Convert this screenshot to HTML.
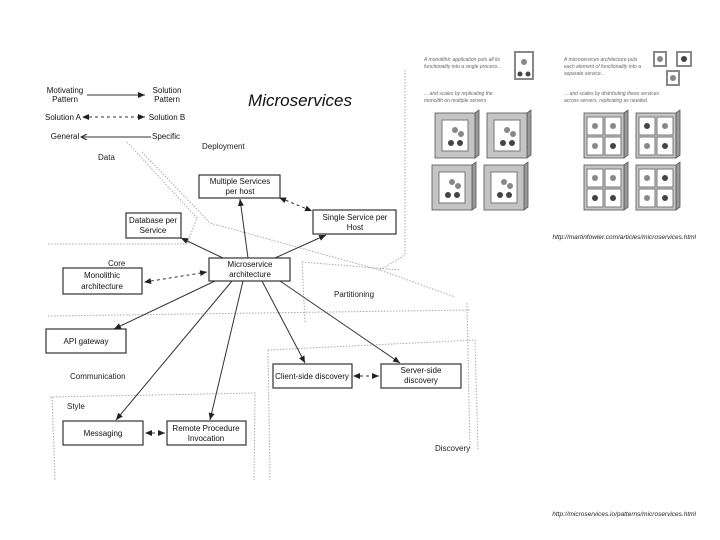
<!DOCTYPE html>
<html><head><meta charset="utf-8"><style>
body{margin:0;background:#fff}
svg{display:block;font-family:"Liberation Sans",Arial,sans-serif}
.b{fill:#fff;stroke:#333;stroke-width:1.2}
.t{font-size:8px;fill:#111;text-anchor:middle}
.l{font-size:8px;fill:#222}
.d{fill:none;stroke:#aaa;stroke-width:1;stroke-dasharray:1.5 1.5}
.a{stroke:#333;stroke-width:1;fill:none}
.g{font-size:5px;fill:#666;font-style:italic}
</style></head><body>
<svg width="720" height="540" viewBox="0 0 720 540">
<defs>
<marker id="ar" markerWidth="8" markerHeight="6" refX="7" refY="3" orient="auto" markerUnits="userSpaceOnUse"><path d="M0,0 L7,3 L0,6z" fill="#222"/></marker>
<marker id="as" markerWidth="8" markerHeight="6" refX="1" refY="3" orient="auto" markerUnits="userSpaceOnUse"><path d="M7,0 L0,3 L7,6z" fill="#222"/></marker>
<marker id="ao" markerWidth="8" markerHeight="6" refX="1" refY="3" orient="auto" markerUnits="userSpaceOnUse"><path d="M7,0 L1,3 L7,6" fill="none" stroke="#222"/></marker>
</defs>
<text class="t" x="65" y="93">Motivating</text><text class="t" x="65" y="102">Pattern</text>
<line class="a" x1="87" y1="95" x2="145" y2="95" marker-end="url(#ar)"/>
<text class="t" x="167" y="93">Solution</text><text class="t" x="167" y="102">Pattern</text>
<text class="t" x="63" y="120">Solution A</text>
<line class="a" x1="83" y1="117" x2="145" y2="117" stroke-dasharray="3 3" marker-start="url(#as)" marker-end="url(#ar)"/>
<text class="t" x="167" y="120">Solution B</text>
<text class="t" x="65" y="139">General</text>
<line class="a" x1="81" y1="137" x2="151" y2="137" marker-start="url(#ao)"/>
<text class="t" x="166" y="139">Specific</text>
<text x="300" y="106" font-size="17" font-style="italic" text-anchor="middle" fill="#111">Microservices</text>
<path class="d" d="M127,142 L197,218 L187,244 M48,244 L187,244"/>
<path class="d" d="M142,152 L210,223 L380,270 L455,297"/>
<path class="d" d="M405,70 L405,255 L380,270"/>
<path class="d" d="M305,322 L302,262 L400,270 M48,316 L470,310"/>
<path class="d" d="M268,350 L270,480 M268,350 L475,340 L478,450"/>
<path class="d" d="M50,397 L255,393 L254,480 M52,397 L55,480"/>
<path class="d" d="M467,303 L470,450"/>
<text class="l" x="98" y="160">Data</text>
<text class="l" x="202" y="149">Deployment</text>
<text class="l" x="108" y="266">Core</text>
<text class="l" x="334" y="297">Partitioning</text>
<text class="l" x="70" y="379">Communication</text>
<text class="l" x="67" y="409">Style</text>
<text class="l" x="435" y="451">Discovery</text>
<rect class="b" x="199" y="175" width="81" height="23"/><text class="t" x="240" y="184">Multiple Services</text><text class="t" x="240" y="194">per host</text>
<rect class="b" x="313" y="210" width="83" height="24"/><text class="t" x="355" y="220">Single Service per</text><text class="t" x="355" y="230">Host</text>
<rect class="b" x="126" y="213" width="55" height="25"/><text class="t" x="153" y="223">Database per</text><text class="t" x="153" y="233">Service</text>
<rect class="b" x="209" y="258" width="81" height="23"/><text class="t" x="250" y="267">Microservice</text><text class="t" x="250" y="277">architecture</text>
<rect class="b" x="63" y="268" width="79" height="26"/><text class="t" x="102" y="278">Monolithic</text><text class="t" x="102" y="289">architecture</text>
<rect class="b" x="46" y="329" width="80" height="24"/><text class="t" x="86" y="344">API gateway</text>
<rect class="b" x="273" y="364" width="79" height="24"/><text class="t" x="312" y="379">Client-side discovery</text>
<rect class="b" x="381" y="364" width="80" height="24"/><text class="t" x="421" y="373">Server-side</text><text class="t" x="421" y="383">discovery</text>
<rect class="b" x="63" y="421" width="80" height="24"/><text class="t" x="103" y="436">Messaging</text>
<rect class="b" x="167" y="421" width="79" height="24"/><text class="t" x="206" y="431">Remote Procedure</text><text class="t" x="206" y="441">Invocation</text>
<line class="a" x1="248" y1="258" x2="240" y2="199" marker-end="url(#ar)"/>
<line class="a" x1="275" y1="258" x2="326" y2="235" marker-end="url(#ar)"/>
<line class="a" x1="223" y1="258" x2="181" y2="238" marker-end="url(#ar)"/>
<line class="a" x1="280" y1="198" x2="312" y2="211" stroke-dasharray="3 3" marker-start="url(#as)" marker-end="url(#ar)"/>
<line class="a" x1="145" y1="282" x2="207" y2="272" stroke-dasharray="3 3" marker-start="url(#as)" marker-end="url(#ar)"/>
<line class="a" x1="215" y1="281" x2="114" y2="329" marker-end="url(#ar)"/>
<line class="a" x1="232" y1="281" x2="116" y2="420" marker-end="url(#ar)"/>
<line class="a" x1="243" y1="281" x2="210" y2="420" marker-end="url(#ar)"/>
<line class="a" x1="262" y1="281" x2="305" y2="363" marker-end="url(#ar)"/>
<line class="a" x1="280" y1="281" x2="400" y2="363" marker-end="url(#ar)"/>
<line class="a" x1="146" y1="433" x2="165" y2="433" stroke-dasharray="3 3" marker-start="url(#as)" marker-end="url(#ar)"/>
<line class="a" x1="354" y1="376" x2="379" y2="376" stroke-dasharray="3 3" marker-start="url(#as)" marker-end="url(#ar)"/>
<text class="g" x="424" y="61">A monolithic application puts all its</text>
<text class="g" x="424" y="68">functionality into a single process...</text>
<text class="g" x="564" y="61">A microservices architecture puts</text>
<text class="g" x="564" y="68">each element of functionality into a</text>
<text class="g" x="564" y="75">separate service...</text>
<text class="g" x="424" y="95">... and scales by replicating the</text>
<text class="g" x="424" y="102">monolith on multiple servers</text>
<text class="g" x="564" y="95">... and scales by distributing these services</text>
<text class="g" x="564" y="102">across servers, replicating as needed.</text>
<rect x="515" y="52" width="18" height="27" fill="#fff" stroke="#888" stroke-width="2"/>
<rect x="654" y="52" width="12" height="14" fill="#fff" stroke="#888" stroke-width="2"/>
<rect x="677" y="52" width="14" height="14" fill="#fff" stroke="#888" stroke-width="2"/>
<rect x="667" y="71" width="12" height="14" fill="#fff" stroke="#888" stroke-width="2"/>
<g fill="#999" stroke="#555" stroke-width="0.8">
<path d="M475,113 l4,-3 v45 l-4,3z M527,113 l4,-3 v45 l-4,3z M472,165 l4,-3 v45 l-4,3z M524,165 l4,-3 v45 l-4,3z M624,113 l4,-3 v45 l-4,3z M676,113 l4,-3 v45 l-4,3z M624,165 l4,-3 v45 l-4,3z M676,165 l4,-3 v45 l-4,3z"/>
</g>
<g fill="#c4c4c4" stroke="#555" stroke-width="0.8">
<rect x="435" y="113" width="40" height="45"/><rect x="487" y="113" width="40" height="45"/>
<rect x="432" y="165" width="40" height="45"/><rect x="484" y="165" width="40" height="45"/>
<rect x="584" y="113" width="40" height="45"/><rect x="636" y="113" width="40" height="45"/>
<rect x="584" y="165" width="40" height="45"/><rect x="636" y="165" width="40" height="45"/>
</g>
<g fill="#fff" stroke="#777" stroke-width="1">
<rect x="442" y="120" width="26" height="31"/><rect x="494" y="120" width="26" height="31"/>
<rect x="439" y="172" width="26" height="31"/><rect x="491" y="172" width="26" height="31"/>
<rect x="587" y="117" width="16" height="18"/><rect x="605" y="117" width="16" height="18"/><rect x="587" y="137" width="16" height="18"/><rect x="605" y="137" width="16" height="18"/>
<rect x="639" y="117" width="16" height="18"/><rect x="657" y="117" width="16" height="18"/><rect x="639" y="137" width="16" height="18"/><rect x="657" y="137" width="16" height="18"/>
<rect x="587" y="169" width="16" height="18"/><rect x="605" y="169" width="16" height="18"/><rect x="587" y="189" width="16" height="18"/><rect x="605" y="189" width="16" height="18"/>
<rect x="639" y="169" width="16" height="18"/><rect x="657" y="169" width="16" height="18"/><rect x="639" y="189" width="16" height="18"/><rect x="657" y="189" width="16" height="18"/>
</g>
<g fill="#444">
<circle cx="451" cy="143" r="3"/><circle cx="503" cy="143" r="3"/><circle cx="448" cy="195" r="3"/><circle cx="500" cy="195" r="3"/>
<circle cx="460" cy="143" r="3"/><circle cx="512" cy="143" r="3"/><circle cx="457" cy="195" r="3"/><circle cx="509" cy="195" r="3"/>
<circle cx="520" cy="74" r="2.5"/><circle cx="528" cy="74" r="2.5"/>
<circle cx="613" cy="146" r="3"/><circle cx="665" cy="146" r="3"/><circle cx="595" cy="198" r="3"/><circle cx="613" cy="198" r="3"/>
<circle cx="647" cy="126" r="3"/><circle cx="665" cy="178" r="3"/><circle cx="665" cy="198" r="3"/><circle cx="684" cy="59" r="3"/>
</g>
<g fill="#888"><circle cx="455" cy="130" r="3"/><circle cx="507" cy="130" r="3"/><circle cx="452" cy="182" r="3"/><circle cx="504" cy="182" r="3"/>
<circle cx="461" cy="134" r="3"/><circle cx="513" cy="134" r="3"/><circle cx="458" cy="186" r="3"/><circle cx="510" cy="186" r="3"/>
<circle cx="595" cy="126" r="3"/><circle cx="613" cy="126" r="3"/><circle cx="595" cy="146" r="3"/><circle cx="665" cy="126" r="3"/><circle cx="647" cy="146" r="3"/>
<circle cx="595" cy="178" r="3"/><circle cx="613" cy="178" r="3"/><circle cx="647" cy="178" r="3"/><circle cx="647" cy="198" r="3"/>
<circle cx="524" cy="62" r="3"/><circle cx="660" cy="59" r="3"/><circle cx="673" cy="78" r="3"/></g>
<text x="696" y="239" font-size="6.5" font-style="italic" fill="#222" text-anchor="end">http://martinfowler.com/articles/microservices.html</text>
<text x="696" y="516" font-size="6.5" font-style="italic" fill="#222" text-anchor="end">http://microservices.io/patterns/microservices.html</text>
</svg>
</body></html>
